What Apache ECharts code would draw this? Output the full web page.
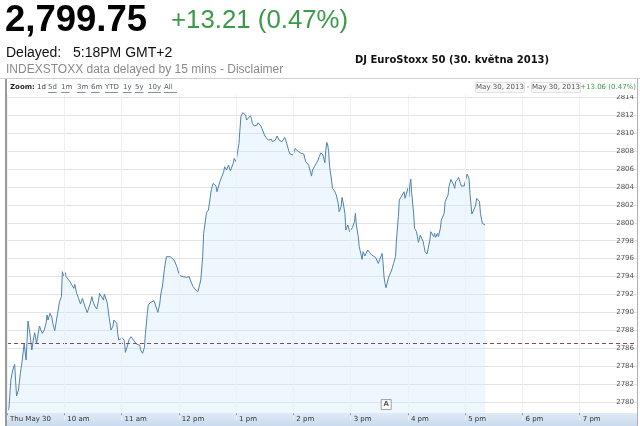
<!DOCTYPE html>
<html><head><meta charset="utf-8">
<script src="https://cdn.jsdelivr.net/npm/echarts@6/dist/echarts.min.js"></script>
<style>html,body{margin:0;padding:0;background:#fff}#c{width:640px;height:426px}</style>
</head><body><div id="c"></div>
<script>
// minutes after the 09:00 open
const minutes = [
0,2,4,6,8,10,12,14,16,18,20,22,24,26,28,29,31,32,34,36,37,39,41,42,43,45,47,48,50,52,53,55,57,58,59,61,62,64,66,68,
70,71,73,75,77,79,81,82,84,86,87,89,90,92,94,96,97,99,101,102,103,105,107,108,109,111,112,113,115,116,117,118,121,122,123,124,126,128,130,132,
134,136,137,139,140,142,144,145,147,148,150,152,154,156,158,160,161,163,165,167,169,171,173,175,176,178,180,181,
183,185,188,190,191,192,194,195,197,199,200,202,203,205,206,209,211,213,214,216,217,219,220,222,223,225,227,228,230,232,
234,235,237,238,240,241,243,244,245,247,249,250,251,253,255,256,257,259,260,262,263,264,266,267,269,270,271,273,274,276,
277,278,280,281,283,284,285,287,288,290,291,292,293,295,296,298,299,300,301,302,304,305,306,308,309,311,312,313,315,316,
317,319,320,322,323,324,326,327,329,330,331,333,334,335,336,337,338,340,341,343,344,345,347,348,350,351,352,354,355,357,
358,359,361,362,364,365,366,368,369,371,372,373,375,376,378,379,380,
382,384,386,387,389,391,393,394,395,396,397,399,400,401,403,404,405,407,408,410,411,412,414,415,416,417,419,420,421,422,
423,424,426,427,429,430,431,433,434,436,437,438,440,441,443,444,445,447,448,449,451,452,454,455,456,458,459,461,462,463,
465,466,468,469,470,472,473,475,476,477,479,480,482,483,484,485,487,488,489,491,492,493,495,496,498,499,500,501
];
const prices = [
2778.96,2779.33,2782.49,2783.60,2784.23,2780.71,2781.37,2783.23,2784.71,2786.57,2784.71,2789.06,2787.68,2785.83,2787.24,2787.76,2786.57,2786.76,2788.50,2788.57,
2787.68,2788.05,2788.87,2789.73,2789.17,2789.91,2789.47,2788.80,2787.98,2788.05,2789.91,2791.21,2791.77,2794.55,2794.11,2794.44,2794.00,2794.07,2793.44,2793.07,
2792.70,2793.14,2792.14,2791.58,2790.95,2791.58,2791.40,2790.58,2789.99,2790.06,2790.95,2791.77,2791.28,2790.73,2790.39,2791.40,2792.14,2792.03,2791.40,2792.06,
2791.95,2791.10,2789.47,2789.35,2788.05,2788.50,2789.17,2789.35,2788.80,2787.68,2786.94,2787.09,2787.16,2787.24,2786.87,2785.57,2786.27,2787.02,2787.31,2787.13,
2786.72,2786.46,2786.42,2786.38,2785.83,2785.46,2786.12,2787.68,2789.91,2790.84,2791.10,2791.17,2791.32,2791.40,2790.02,2790.95,2791.95,2793.07,2794.92,2796.22,
2796.30,2796.22,2796.07,2795.85,2795.66,2795.11,2794.37,2794.11,
2794.18,2793.99,2793.92,2793.81,2793.99,2793.62,2793.44,2792.88,2792.58,2792.40,2792.32,2792.51,2793.62,2796.22,2798.82,2801.12,2801.42,2801.60,2803.64,2804.39,
2804.57,2804.09,2803.46,2804.20,2804.57,2804.76,2805.69,2806.24,2805.87,2806.43,2805.80,2806.06,2806.62,2807.17,2806.80,2807.54,2808.84,2810.33,2811.81,2812.26,
2812.48,2812.00,2811.44,2811.63,2811.92,2811.63,2811.07,2810.77,2810.99,2810.88,2811.14,2811.14,2810.77,2810.51,2809.96,2809.77,2809.51,2809.47,2809.21,2809.03,
2809.29,2809.03,2808.84,2809.21,2809.66,2809.51,2809.21,2809.29,2809.03,2809.21,2809.51,2809.21,2808.84,2808.09,2807.73,2807.73,2807.54,2807.65,2807.91,2808.29,
2808.03,2808.09,2807.91,2807.73,2807.80,2807.65,2807.17,2806.80,2806.62,2806.43,2806.24,2805.20,2805.87,2806.24,2806.32,2806.62,2806.99,2807.36,2807.80,2807.91,
2807.54,2806.69,2808.09,2808.95,2808.66,2807.91,2806.24,2804.76,2803.83,2803.57,2803.72,2803.09,2802.16,2801.23,2801.79,2802.83,2802.35,2801.05,2799.19,2799.75,
2799.56,2799.01,2799.19,2799.49,2800.12,2801.05,2799.75,2798.45,2797.34,2796.41,2795.92,2796.78,2796.30,2796.59,2796.96,2796.96,2796.67,
2796.41,2796.22,2796.15,2796.22,2795.48,2796.04,2796.59,2795.48,2793.99,2793.25,2792.76,2793.62,2793.99,2794.18,2794.74,2794.92,2795.48,2796.22,2798.08,2800.68,
2802.53,2802.72,2803.09,2802.90,2803.46,2802.72,2803.46,2803.83,2802.90,2804.20,2804.87,2803.27,2801.05,2799.38,2799.01,2798.45,2797.82,2798.63,2798.45,2797.89,
2797.34,2796.78,2796.52,2796.59,2798.08,2799.01,2798.82,2798.45,2798.82,2798.37,2798.82,2798.45,2799.38,2800.30,2800.12,2801.05,2802.35,2802.16,2803.09,2804.02,
2804.83,2804.76,2804.20,2803.83,2804.57,2804.83,2805.06,2804.39,2804.09,2804.09,2804.09,2804.57,2805.43,2805.50,2804.94,2803.27,2800.97,2801.12,2801.42,2801.97,
2802.72,2802.83,2802.35,2801.05,2799.93,2799.86,2799.71,2799.75
];
const xTickLabels = ['Thu May 30','10 am','11 am','12 pm','1 pm','2 pm','3 pm','4 pm','5 pm','6 pm','7 pm'];
const prevClose = 2786.54;
const flagPoint = [392, 2779.75];
const flagText = 'A';
const zoomLinks = ['1d','5d','1m','3m','6m','YTD','1y','5y','10y','All'];
const zoomLinkX = [37,48,61,77,91,105,123,135,148,164];

const chart = echarts.init(document.getElementById('c'), null, {renderer:'canvas'});
const series = minutes.map((m, i) => [m, prices[i]]);
const SMALL = '"DejaVu Sans", Verdana, sans-serif';
const HEAD = '"Liberation Sans", Arial, sans-serif';

const g = [];
// header
g.push({type:'text', x:5, y:20.5, z:20, style:{text:'2,799.75', font:'bold 36.5px '+HEAD, fill:'#000', verticalAlign:'middle'}});
g.push({type:'text', x:171, y:20.5, z:20, style:{text:'+13.21 (0.47%)', font:'25.8px '+HEAD, fill:'#3a9a47', verticalAlign:'middle'}});
g.push({type:'text', x:6, y:53, z:20, style:{text:'Delayed:', font:'14px '+HEAD, fill:'#111', verticalAlign:'middle'}});
g.push({type:'text', x:73, y:53, z:20, style:{text:'5:18PM GMT+2', font:'14px '+HEAD, fill:'#111', verticalAlign:'middle'}});
g.push({type:'text', x:6, y:69.5, z:20, style:{text:'INDEXSTOXX data delayed by 15 mins - Disclaimer', font:'12px '+HEAD, fill:'#8a8a8a', verticalAlign:'middle'}});
g.push({type:'text', x:355, y:60, z:20, style:{text:'DJ EuroStoxx 50 (30. května 2013)', font:'bold 10px '+SMALL, fill:'#111', verticalAlign:'middle'}});
// chart box borders
g.push({type:'line', z:20, shape:{x1:0, y1:78.5, x2:640, y2:78.5}, style:{stroke:'#cfcfcf', lineWidth:1}});
g.push({type:'line', z:20, shape:{x1:6, y1:79, x2:6, y2:426}, style:{stroke:'#9a9a9a', lineWidth:2}});
g.push({type:'line', z:20, shape:{x1:637.5, y1:79, x2:637.5, y2:426}, style:{stroke:'#b0b0b0', lineWidth:1}});
// zoom bar
g.push({type:'rect', z:10, shape:{x:7, y:79, width:630, height:16}, style:{fill:'#fff'}});
g.push({type:'text', x:10, y:87.5, z:11, style:{text:'Zoom:', font:'bold 7px '+SMALL, fill:'#222', verticalAlign:'middle'}});
zoomLinks.forEach((t, i) => {
  g.push({type:'text', x:zoomLinkX[i], y:87.5, z:11, style:{text:t, font:'7px '+SMALL, fill: i===0 ? '#333' : '#555a66', verticalAlign:'middle'}});
  if (i > 0) {
    const w = t.length * 4.3;
    g.push({type:'line', z:11, shape:{x1:zoomLinkX[i], y1:92.5, x2:zoomLinkX[i] + w, y2:92.5}, style:{stroke:'#8a8f9a', lineWidth:1}});
  }
});
g.push({type:'rect', z:11, shape:{x:475.5, y:82.5, width:49, height:10}, style:{fill:'#f7f7f7', stroke:'#e2e2e2'}});
g.push({type:'text', x:500, y:87.5, z:12, style:{text:'May 30, 2013', font:'7px '+SMALL, fill:'#555', align:'center', verticalAlign:'middle'}});
g.push({type:'text', x:528, y:87.5, z:12, style:{text:'-', font:'7px '+SMALL, fill:'#555', align:'center', verticalAlign:'middle'}});
g.push({type:'rect', z:11, shape:{x:531.5, y:82.5, width:49, height:10}, style:{fill:'#f7f7f7', stroke:'#e2e2e2'}});
g.push({type:'text', x:556, y:87.5, z:12, style:{text:'May 30, 2013', font:'7px '+SMALL, fill:'#555', align:'center', verticalAlign:'middle'}});
g.push({type:'text', x:636, y:87.5, z:12, style:{text:'+13.06 (0.47%)', font:'7px '+SMALL, fill:'#3a9a47', align:'right', verticalAlign:'middle'}});
// x-axis band
g.push({type:'rect', z:5, shape:{x:7, y:413, width:630, height:13},
  style:{fill:new echarts.graphic.LinearGradient(0,0,0,1,[{offset:0,color:'#dfeaf6'},{offset:1,color:'#c9dbee'}])}});

const option = {
  animation:false,
  grid:{left:7, right:3, top:79.1, bottom:5.7, containLabel:false},
  xAxis:{
    type:'value', min:0, max:660, interval:60, offset:-7, z:6,
    axisLine:{show:false},
    axisTick:{show:true, length:2, lineStyle:{color:'#8899aa'}},
    splitLine:{show:true, lineStyle:{color:'#eef1f4', width:1}},
    axisLabel:{
      show:true, showMaxLabel:false, fontSize:7, fontFamily:SMALL, color:'#333',
      align:'left', margin:2, padding:[0,0,0,3],
      formatter:(v) => xTickLabels[Math.round(v/60)] || ''
    }
  },
  yAxis:{
    type:'value', position:'right', min:2778, max:2816, interval:2, z:0,
    axisLine:{show:false}, axisTick:{show:false},
    splitLine:{show:true, lineStyle:{color:'#e3e3e3', width:1}},
    axisLabel:{
      inside:true, margin:3, fontSize:7, fontFamily:SMALL, color:'#555',
      showMinLabel:false, showMaxLabel:false,
      verticalAlign:'middle', padding:[0,0,4,0],
      formatter:(v) => String(Math.round(v))
    }
  },
  series:[
    {
      type:'line', data:series, showSymbol:false, symbol:'none', z:2,
      lineStyle:{color:'#4f82ab', width:1},
      areaStyle:{color:'rgba(205,232,250,0.5)', origin:'start'},
      markLine:{
        silent:true, symbol:'none', label:{show:false},
        lineStyle:{color:'#8c4a4a', type:[4,3], width:1},
        data:[{yAxis:prevClose}]
      }
    },
    {
      type:'scatter', data:[flagPoint], symbol:'rect', symbolSize:[10,10], symbolOffset:[5,0], z:7,
      itemStyle:{color:'#fafafa', borderColor:'#8a8a8a', borderWidth:1},
      label:{show:true, formatter:flagText, position:'inside', fontSize:7, fontWeight:'bold', fontFamily:SMALL, color:'#333'}
    }
  ],
  graphic:{elements:g}
};
chart.setOption(option);
</script>
</body></html>
